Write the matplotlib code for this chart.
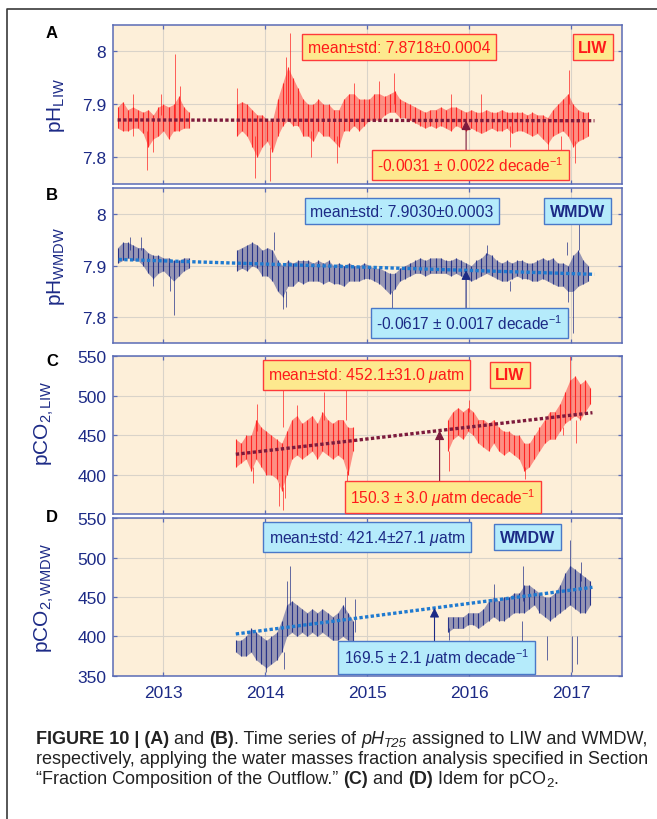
import numpy as np
import matplotlib
matplotlib.use('Agg')
import matplotlib.pyplot as plt
from matplotlib.lines import Line2D

plt.rcParams['font.family'] = ['Liberation Sans', 'DejaVu Sans']
plt.rcParams['mathtext.fontset'] = 'custom'
plt.rcParams['mathtext.rm'] = 'Liberation Sans'
plt.rcParams['mathtext.it'] = 'Liberation Sans:italic'
plt.rcParams['mathtext.bf'] = 'Liberation Sans:bold'

# ---- data (0.05 yr bins: dense band low / high) ----
step = 0.05
years = [2013, 2014, 2015, 2016, 2017]

# A: pH LIW
A1_start = 2012.55
A1_lo = [7.855, 7.850, 7.850, 7.855, 7.855, 7.845, 7.820, 7.835, 7.840, 7.850, 7.835, 7.850, 7.850, 7.855, 7.855]
A1_hi = [7.895, 7.905, 7.890, 7.895, 7.890, 7.885, 7.890, 7.880, 7.895, 7.900, 7.895, 7.900, 7.915, 7.895, 7.885]
A2_start = 2013.72
A2_lo = [7.84, 7.85, 7.84, 7.82, 7.80, 7.82, 7.83, 7.81, 7.84, 7.86,
         7.87, 7.86, 7.86, 7.84, 7.84, 7.83, 7.85, 7.84, 7.84, 7.83,
         7.82, 7.85, 7.85, 7.86, 7.85, 7.86, 7.87, 7.87, 7.87, 7.88,
         7.885, 7.885, 7.875, 7.875, 7.87, 7.865, 7.86, 7.855, 7.86, 7.855,
         7.86, 7.855, 7.85, 7.86, 7.855, 7.85, 7.855, 7.85, 7.845, 7.85,
         7.855, 7.85, 7.85, 7.855, 7.845, 7.85, 7.85, 7.845, 7.84, 7.845,
         7.835, 7.825, 7.84, 7.845, 7.85, 7.84, 7.82, 7.83, 7.835, 7.84]
A2_hi = [7.90, 7.905, 7.90, 7.89, 7.88, 7.88, 7.87, 7.87, 7.91, 7.94,
         7.97, 7.95, 7.93, 7.91, 7.90, 7.90, 7.91, 7.90, 7.90, 7.89,
         7.89, 7.91, 7.92, 7.92, 7.91, 7.91, 7.91, 7.92, 7.92, 7.915,
         7.92, 7.925, 7.91, 7.905, 7.90, 7.895, 7.89, 7.885, 7.89, 7.89,
         7.895, 7.89, 7.895, 7.895, 7.89, 7.885, 7.89, 7.885, 7.885, 7.89,
         7.885, 7.885, 7.89, 7.885, 7.885, 7.885, 7.885, 7.88, 7.885, 7.88,
         7.88, 7.875, 7.89, 7.90, 7.91, 7.92, 7.90, 7.89, 7.885, 7.885]
A_spikes = [(2012.70, 7.84, 7.92), (2012.84, 7.775, 7.85), (2012.90, 7.81, 7.87),
            (2013.11, 7.85, 7.995), (2013.16, 7.87, 7.935), (2012.98, 7.88, 7.92),
            (2013.72, 7.85, 7.93), (2013.90, 7.76, 7.84), (2014.05, 7.755, 7.82),
            (2014.24, 7.90, 8.035), (2014.20, 7.90, 7.99), (2014.45, 7.80, 7.85),
            (2014.70, 7.79, 7.84), (2014.87, 7.90, 7.94), (2015.12, 7.90, 7.945),
            (2015.26, 7.90, 7.96), (2015.82, 7.88, 7.92), (2016.12, 7.87, 7.92),
            (2016.40, 7.82, 7.86), (2016.77, 7.805, 7.84), (2016.98, 7.90, 7.965),
            (2017.04, 7.79, 7.83), (2016.90, 7.80, 7.84)]

# B: pH WMDW
B1_start = 2012.55
B1_lo = [7.905, 7.91, 7.915, 7.91, 7.91, 7.90, 7.885, 7.875, 7.885, 7.89, 7.88, 7.87, 7.88, 7.89, 7.895]
B1_hi = [7.935, 7.945, 7.945, 7.94, 7.935, 7.935, 7.925, 7.92, 7.92, 7.915, 7.915, 7.91, 7.91, 7.915, 7.915]
B2_start = 2013.72
B2_lo = [7.89, 7.895, 7.89, 7.90, 7.895, 7.88, 7.88, 7.87, 7.85, 7.84,
         7.86, 7.86, 7.87, 7.865, 7.87, 7.87, 7.87, 7.865, 7.87, 7.865,
         7.865, 7.86, 7.87, 7.87, 7.87, 7.875, 7.875, 7.87, 7.865, 7.855,
         7.845, 7.855, 7.87, 7.875, 7.88, 7.885, 7.885, 7.88, 7.885, 7.885,
         7.885, 7.885, 7.88, 7.885, 7.88, 7.875, 7.87, 7.875, 7.88, 7.885,
         7.88, 7.875, 7.87, 7.87, 7.875, 7.88, 7.875, 7.875, 7.87, 7.87,
         7.875, 7.87, 7.865, 7.86, 7.86, 7.85, 7.85, 7.86, 7.865, 7.87]
B2_hi = [7.93, 7.935, 7.94, 7.945, 7.94, 7.93, 7.935, 7.93, 7.91, 7.90,
         7.91, 7.905, 7.91, 7.91, 7.91, 7.905, 7.91, 7.905, 7.91, 7.90,
         7.905, 7.90, 7.905, 7.90, 7.90, 7.905, 7.90, 7.895, 7.895, 7.89,
         7.885, 7.885, 7.895, 7.90, 7.905, 7.91, 7.915, 7.91, 7.915, 7.915,
         7.915, 7.91, 7.91, 7.915, 7.91, 7.905, 7.90, 7.91, 7.915, 7.925,
         7.92, 7.91, 7.905, 7.91, 7.905, 7.91, 7.91, 7.905, 7.905, 7.91,
         7.915, 7.91, 7.915, 7.905, 7.905, 7.90, 7.92, 7.93, 7.91, 7.90]
B_spikes = [(2012.67, 7.93, 7.955), (2012.78, 7.93, 7.955), (2012.90, 7.86, 7.89),
            (2013.10, 7.805, 7.87), (2013.06, 7.85, 7.88), (2014.08, 7.93, 7.965),
            (2014.17, 7.815, 7.85), (2014.20, 7.82, 7.85), (2015.24, 7.815, 7.85),
            (2016.18, 7.92, 7.94), (2016.40, 7.85, 7.87), (2016.96, 7.92, 7.945),
            (2017.02, 7.77, 7.85), (2017.08, 7.93, 7.98), (2016.97, 7.83, 7.86)]

# C: pCO2 LIW
C1_start = 2013.71
C1_lo = [410, 415, 420, 405, 420, 410, 400, 400, 395, 380, 400, 420, 425, 420, 425, 430, 420, 430, 425, 420, 425, 420, 400, 430]
C1_hi = [445, 440, 450, 450, 470, 460, 455, 450, 445, 440, 455, 470, 475, 465, 470, 475, 465, 480, 470, 465, 470, 470, 460, 460]
C2_start = 2015.79
C2_lo = [430, 445, 450, 445, 455, 450, 440, 435, 430, 440, 430, 425, 430, 425, 420,
         405, 410, 420, 430, 440, 445, 445, 455, 465, 470, 475, 470, 480, 490]
C2_hi = [470, 480, 485, 480, 485, 480, 470, 470, 465, 470, 460, 455, 455, 450, 450,
         440, 440, 450, 460, 470, 480, 480, 490, 505, 520, 525, 515, 520, 510]
C_spikes = [(2013.92, 455, 490), (2013.88, 390, 410), (2014.13, 360, 390), (2014.17, 355, 385),
            (2014.19, 370, 400), (2014.17, 460, 508), (2014.31, 470, 488), (2014.58, 470, 505),
            (2014.79, 470, 510), (2014.80, 385, 405), (2015.80, 405, 430), (2016.00, 480, 495),
            (2016.55, 395, 410), (2016.99, 510, 550), (2017.05, 440, 470), (2016.92, 450, 460)]

# D: pCO2 WMDW
D1_start = 2013.71
D1_lo = [380, 375, 375, 380, 370, 365, 360, 365, 370, 380, 400, 405, 400, 405, 400, 405, 400, 405, 400, 395, 395, 400, 395, 390]
D1_hi = [395, 395, 400, 410, 405, 400, 395, 400, 405, 420, 440, 445, 440, 435, 430, 435, 430, 435, 430, 425, 430, 440, 430, 420]
D2_start = 2015.79
D2_lo = [405, 410, 410, 410, 415, 415, 410, 415, 420, 425, 420, 420, 425, 430, 430,
         430, 435, 440, 430, 425, 420, 425, 430, 435, 440, 435, 430, 430, 440]
D2_hi = [425, 425, 425, 425, 430, 430, 430, 435, 445, 450, 445, 450, 450, 455, 455,
         465, 465, 460, 455, 450, 450, 455, 465, 480, 490, 485, 480, 475, 470]
D_spikes = [(2014.01, 355, 365), (2014.18, 358, 380), (2014.21, 430, 470), (2014.24, 440, 490),
            (2014.78, 430, 450), (2014.88, 405, 448), (2015.80, 395, 410), (2016.24, 450, 467),
            (2016.53, 445, 490), (2016.52, 393, 420), (2016.76, 370, 400), (2016.99, 480, 522),
            (2017.01, 355, 400), (2017.06, 365, 400), (2017.10, 470, 495)]

# trends: (start year, end year, start value, slope per decade)
trend_A = (2012.55, 2017.23, 7.8705, -0.0031)
trend_B = (2012.56, 2017.23, 7.912, -0.0617)
trend_C = (2013.71, 2017.21, 426.0, 150.3)
trend_D = (2013.71, 2017.21, 403.0, 169.5)
arrow_year = [2015.97, 2015.97, 2015.71, 2015.66]

mean_text = ['mean±std: 7.8718±0.0004', 'mean±std: 7.9030±0.0003',
             r'mean±std: 452.1±31.0 $\mu$atm', r'mean±std: 421.4±27.1 $\mu$atm']
trend_text = [r'-0.0031 ± 0.0022 decade$^{-1}$', r'-0.0617 ± 0.0017 decade$^{-1}$',
              r'150.3 ± 3.0 $\mu$atm decade$^{-1}$', r'169.5 ± 2.1 $\mu$atm decade$^{-1}$']
mass_text = ['LIW', 'WMDW', 'LIW', 'WMDW']
ylabels = [r'pH$_{\rm LIW}$', r'pH$_{\rm WMDW}$', r'pCO$_{2,\rm LIW}$', r'pCO$_{2,\rm WMDW}$']
letters = ['A', 'B', 'C', 'D']

# ---- styling ----
W, H = 657, 820
navy = '#1c2a86'
red = '#ff1a1a'
maroon = '#7d1a3c'
lblue = '#1f7ad0'
face = '#fdefd9'
spine = '#5a6bb5'
yel_box = dict(boxstyle='square,pad=0.35', fc='#fde98e', ec='#ff3a3a', lw=1.0)
cyan_box = dict(boxstyle='square,pad=0.35', fc='#b5ebfb', ec='#4a78c8', lw=1.0)

fig = plt.figure(figsize=(W / 100, H / 100), dpi=100)

# axes rectangles in pixels: (top, bottom)
rows = [(26, 184.7), (189.3, 344), (357.3, 515.3), (519.3, 676.7)]
x0, x1 = 112.5, 622
series = [
    [(A1_start, A1_lo, A1_hi), (A2_start, A2_lo, A2_hi)],
    [(B1_start, B1_lo, B1_hi), (B2_start, B2_lo, B2_hi)],
    [(C1_start, C1_lo, C1_hi), (C2_start, C2_lo, C2_hi)],
    [(D1_start, D1_lo, D1_hi), (D2_start, D2_lo, D2_hi)],
]
spikes = [A_spikes, B_spikes, C_spikes, D_spikes]
trends = [trend_A, trend_B, trend_C, trend_D]
dot_col = [red, navy, red, navy]
line_col = [maroon, lblue, maroon, lblue]
txt_col = [red, navy, red, navy]
boxes = [yel_box, cyan_box, yel_box, cyan_box]
# box centres in axes fraction
mean_pos = [(0.562, 0.861), (0.568, 0.853), (0.4985, 0.882), (0.4995, 0.881)]
mass_pos = [(0.943, 0.861), (0.913, 0.853), (0.780, 0.882), (0.8145, 0.881)]
trend_pos = [(0.702, 0.118), (0.701, 0.129), (0.648, 0.110), (0.636, 0.116)]
arrow_from = [0.206, 0.220, 0.203, 0.208]
ylims = [(7.75, 8.05), (7.75, 8.05), (350, 550), (350, 550)]
yticks = [[7.8, 7.9, 8.0], [7.8, 7.9, 8.0], [400, 450, 500, 550], [350, 400, 450, 500, 550]]
yticklabels = [['7.8', '7.9', '8'], ['7.8', '7.9', '8'],
               ['400', '450', '500', '550'], ['350', '400', '450', '500', '550']]
ylab_pos = [(-0.089, 0.5), (-0.089, 0.5), (-0.11, 0.58), (-0.11, 0.5)]
letter_y = [33, 195, 362, 518]

for i in range(4):
    top, bot = rows[i]
    ax = fig.add_axes([x0 / W, 1 - bot / H, (x1 - x0) / W, (bot - top) / H])
    ax.set_facecolor(face)
    ax.set_xlim(2012.5, 2017.5)
    ax.set_ylim(*ylims[i])
    ax.set_xticks(years)
    ax.set_yticks(yticks[i])
    ax.set_yticklabels(yticklabels[i])
    ax.grid(True, color='#d9d3c9', lw=0.8)
    ax.set_axisbelow(True)
    for s in ax.spines.values():
        s.set_color(spine)
        s.set_linewidth(1.1)
    ax.tick_params(direction='in', length=3, width=0.9, color=spine,
                   top=True, right=True, labelcolor=navy, labelsize=12.5, pad=4.5)
    if i < 3:
        ax.tick_params(labelbottom=False)
    else:
        ax.tick_params(axis='x', pad=7)

    # data: dense band plus vertical streaks
    for start, lo, hi in series[i]:
        t = start + step * np.arange(len(lo))
        ax.fill_between(t, lo, hi, color=dot_col[i], alpha=0.45, lw=0, zorder=2)
        ax.vlines(t, lo, hi, color=dot_col[i], lw=0.8, alpha=0.9, zorder=2)
    for t, lo, hi in spikes[i]:
        ax.vlines(t, lo, hi, color=dot_col[i], lw=0.6, alpha=0.8, zorder=2)

    # trend
    t0, t1, y0, slope = trends[i]
    ax.plot([t0, t1], [y0, y0 + slope * (t1 - t0) / 10], color=line_col[i],
            lw=2.4, ls=(0, (1, 0.7)), zorder=3)
    ya = y0 + slope * (arrow_year[i] - t0) / 10
    ax.annotate('', xy=(arrow_year[i], ya), xycoords='data',
                xytext=(arrow_year[i], arrow_from[i]), textcoords=ax.get_xaxis_transform(),
                arrowprops=dict(arrowstyle='-|>', color=line_col[i] if i % 2 == 0 else navy,
                                lw=0.8, mutation_scale=14, shrinkA=0, shrinkB=0), zorder=4)

    # labels
    ax.text(*mean_pos[i], mean_text[i], transform=ax.transAxes, ha='center', va='center',
            color=txt_col[i], fontsize=11.3, bbox=boxes[i], zorder=5)
    ax.text(*mass_pos[i], mass_text[i], transform=ax.transAxes, ha='center', va='center',
            color=txt_col[i], fontsize=11.5, fontweight='bold', bbox=boxes[i], zorder=5)
    ax.text(*trend_pos[i], trend_text[i], transform=ax.transAxes, ha='center', va='center',
            color=txt_col[i], fontsize=11.2, bbox=boxes[i], zorder=5)

    ax.set_ylabel(ylabels[i], color=navy, fontsize=15)
    ax.yaxis.set_label_coords(*ylab_pos[i])
    fig.text(52 / W, 1 - letter_y[i] / H, letters[i], ha='center', va='center',
             fontsize=12, fontweight='bold', color='black')

# outer frame (open to the right and bottom)
fig.add_artist(Line2D([7 / W, 7 / W, 1], [0, 1 - 10 / H, 1 - 10 / H],
                      transform=fig.transFigure, color='#3a3a3a', lw=1.2))

# caption, drawn piece by piece
cap_font = ['Liberation Sans Narrow', 'Liberation Sans', 'DejaVu Sans']
r = fig.canvas.get_renderer()


def advance(s, kw):
    a = fig.text(0, 0, s + '.', **kw)
    b = fig.text(0, 0, '.', **kw)
    w = a.get_window_extent(r).width - b.get_window_extent(r).width
    a.remove()
    b.remove()
    return w


def caption_line(y_px, pieces):
    x = 36
    for s, kw in pieces:
        kw = dict(kw)
        dy = kw.pop('dy', 0)
        kw.setdefault('fontsize', 13)
        kw['family'] = cap_font
        kw['color'] = '#222222'
        fig.text(x / W, 1 - (y_px + dy) / H, s, ha='left', va='baseline', **kw)
        x += advance(s, kw)


B = {'fontweight': 'bold'}
N = {}
caption_line(744, [('FIGURE 10 | (A)', B), (' and ', N), ('(B)', B),
                   ('. Time series of ', N), ('pH', {'style': 'italic'}),
                   ('T25', {'style': 'italic', 'fontsize': 9.5, 'dy': 3}),
                   (' assigned to LIW and WMDW,', N)])
caption_line(764, [('respectively, applying the water masses fraction analysis specified in Section', N)])
caption_line(784, [('\u201cFraction Composition of the Outflow.\u201d ', N), ('(C)', B), (' and ', N),
                   ('(D)', B), (' Idem for pCO', N), ('2', {'fontsize': 9.5, 'dy': 3}), ('.', N)])

fig.savefig('out.png', dpi=100)
